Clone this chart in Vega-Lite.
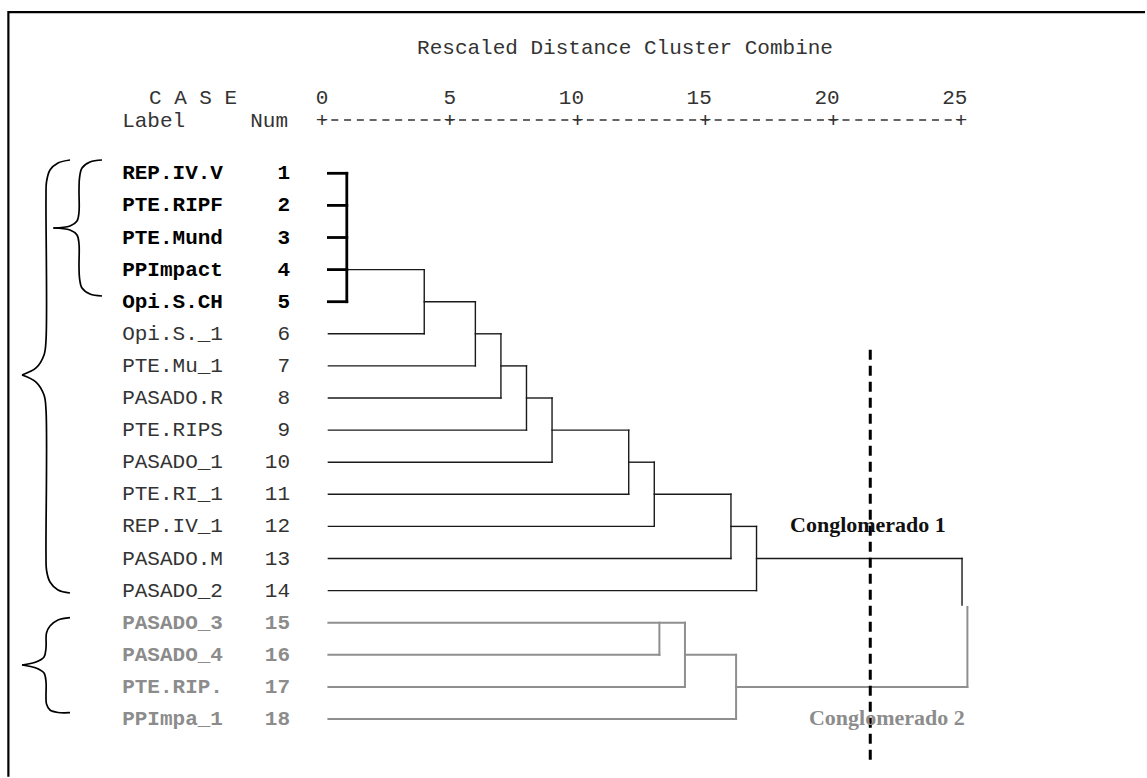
{
  "$schema": "https://vega.github.io/schema/vega-lite/v6.json",
  "width": 1147,
  "height": 778,
  "padding": 0,
  "autosize": {"type": "fit", "contains": "padding"},
  "background": "#ffffff",
  "config": {"view": {"stroke": null}},
  "data": {"values": [{"one": 1}]},
  "datasets": {
    "cases": [
      {"num": 1, "label": "REP.IV.V", "grp": "A"},
      {"num": 2, "label": "PTE.RIPF", "grp": "A"},
      {"num": 3, "label": "PTE.Mund", "grp": "A"},
      {"num": 4, "label": "PPImpact", "grp": "A"},
      {"num": 5, "label": "Opi.S.CH", "grp": "A"},
      {"num": 6, "label": "Opi.S._1", "grp": "B"},
      {"num": 7, "label": "PTE.Mu_1", "grp": "B"},
      {"num": 8, "label": "PASADO.R", "grp": "B"},
      {"num": 9, "label": "PTE.RIPS", "grp": "B"},
      {"num": 10, "label": "PASADO_1", "grp": "B"},
      {"num": 11, "label": "PTE.RI_1", "grp": "B"},
      {"num": 12, "label": "REP.IV_1", "grp": "B"},
      {"num": 13, "label": "PASADO.M", "grp": "B"},
      {"num": 14, "label": "PASADO_2", "grp": "B"},
      {"num": 15, "label": "PASADO_3", "grp": "C"},
      {"num": 16, "label": "PASADO_4", "grp": "C"},
      {"num": 17, "label": "PTE.RIP.", "grp": "C"},
      {"num": 18, "label": "PPImpa_1", "grp": "C"}
    ],
    "segments": [
      {"x1": 0.25, "x2": 0.97, "y1": 1, "y2": 1, "grp": "A"},
      {"x1": 0.25, "x2": 0.97, "y1": 2, "y2": 2, "grp": "A"},
      {"x1": 0.25, "x2": 0.97, "y1": 3, "y2": 3, "grp": "A"},
      {"x1": 0.25, "x2": 0.97, "y1": 4, "y2": 4, "grp": "A"},
      {"x1": 0.25, "x2": 0.97, "y1": 5, "y2": 5, "grp": "A"},
      {"x1": 0.97, "x2": 0.97, "y1": 1, "y2": 5, "grp": "A"},
      {"x1": 0.97, "x2": 4, "y1": 4, "y2": 4, "grp": "B"},
      {"x1": 0.25, "x2": 4, "y1": 6, "y2": 6, "grp": "B"},
      {"x1": 4, "x2": 4, "y1": 4, "y2": 6, "grp": "B"},
      {"x1": 4, "x2": 6, "y1": 5, "y2": 5, "grp": "B"},
      {"x1": 0.25, "x2": 6, "y1": 7, "y2": 7, "grp": "B"},
      {"x1": 6, "x2": 6, "y1": 5, "y2": 7, "grp": "B"},
      {"x1": 6, "x2": 7, "y1": 6, "y2": 6, "grp": "B"},
      {"x1": 0.25, "x2": 7, "y1": 8, "y2": 8, "grp": "B"},
      {"x1": 7, "x2": 7, "y1": 6, "y2": 8, "grp": "B"},
      {"x1": 7, "x2": 8, "y1": 7, "y2": 7, "grp": "B"},
      {"x1": 0.25, "x2": 8, "y1": 9, "y2": 9, "grp": "B"},
      {"x1": 8, "x2": 8, "y1": 7, "y2": 9, "grp": "B"},
      {"x1": 8, "x2": 9, "y1": 8, "y2": 8, "grp": "B"},
      {"x1": 0.25, "x2": 9, "y1": 10, "y2": 10, "grp": "B"},
      {"x1": 9, "x2": 9, "y1": 8, "y2": 10, "grp": "B"},
      {"x1": 9, "x2": 12, "y1": 9, "y2": 9, "grp": "B"},
      {"x1": 0.25, "x2": 12, "y1": 11, "y2": 11, "grp": "B"},
      {"x1": 12, "x2": 12, "y1": 9, "y2": 11, "grp": "B"},
      {"x1": 12, "x2": 13, "y1": 10, "y2": 10, "grp": "B"},
      {"x1": 0.25, "x2": 13, "y1": 12, "y2": 12, "grp": "B"},
      {"x1": 13, "x2": 13, "y1": 10, "y2": 12, "grp": "B"},
      {"x1": 13, "x2": 16, "y1": 11, "y2": 11, "grp": "B"},
      {"x1": 0.25, "x2": 16, "y1": 13, "y2": 13, "grp": "B"},
      {"x1": 16, "x2": 16, "y1": 11, "y2": 13, "grp": "B"},
      {"x1": 16, "x2": 17, "y1": 12, "y2": 12, "grp": "B"},
      {"x1": 0.25, "x2": 17, "y1": 14, "y2": 14, "grp": "B"},
      {"x1": 17, "x2": 17, "y1": 12, "y2": 14, "grp": "B"},
      {"x1": 17, "x2": 25.04, "y1": 13, "y2": 13, "grp": "B"},
      {"x1": 25.04, "x2": 25.04, "y1": 13, "y2": 14.45, "grp": "B"},
      {"x1": 0.25, "x2": 14.2, "y1": 15, "y2": 15, "grp": "C"},
      {"x1": 0.25, "x2": 13.2, "y1": 16, "y2": 16, "grp": "C"},
      {"x1": 13.2, "x2": 13.2, "y1": 15, "y2": 16, "grp": "C"},
      {"x1": 0.25, "x2": 14.2, "y1": 17, "y2": 17, "grp": "C"},
      {"x1": 14.2, "x2": 14.2, "y1": 15, "y2": 17, "grp": "C"},
      {"x1": 14.2, "x2": 16.2, "y1": 16, "y2": 16, "grp": "C"},
      {"x1": 0.25, "x2": 16.2, "y1": 18, "y2": 18, "grp": "C"},
      {"x1": 16.2, "x2": 16.2, "y1": 16, "y2": 18, "grp": "C"},
      {"x1": 16.2, "x2": 25.25, "y1": 17, "y2": 17, "grp": "C"},
      {"x1": 25.25, "x2": 25.25, "y1": 14.51, "y2": 17, "grp": "C"}
    ],
    "ticks": [{"tick": 0}, {"tick": 5}, {"tick": 10}, {"tick": 15}, {"tick": 20}, {"tick": 25}],
    "braces": [
      {"b": "1u", "i": 0, "x": -8.607, "y": 0.586},
      {"b": "1u", "i": 1, "x": -9.077, "y": 0.648},
      {"b": "1u", "i": 2, "x": -9.39, "y": 0.835},
      {"b": "1u", "i": 3, "x": -9.487, "y": 1.146},
      {"b": "1u", "i": 4, "x": -9.507, "y": 1.52},
      {"b": "1u", "i": 5, "x": -9.507, "y": 2.206},
      {"b": "1u", "i": 6, "x": -9.585, "y": 2.486},
      {"b": "1u", "i": 7, "x": -9.859, "y": 2.642},
      {"b": "1u", "i": 8, "x": -10.51, "y": 2.704},
      {"b": "1l", "i": 0, "x": -10.51, "y": 2.704},
      {"b": "1l", "i": 1, "x": -9.859, "y": 2.766},
      {"b": "1l", "i": 2, "x": -9.585, "y": 2.922},
      {"b": "1l", "i": 3, "x": -9.507, "y": 3.202},
      {"b": "1l", "i": 4, "x": -9.507, "y": 3.888},
      {"b": "1l", "i": 5, "x": -9.487, "y": 4.262},
      {"b": "1l", "i": 6, "x": -9.39, "y": 4.573},
      {"b": "1l", "i": 7, "x": -9.077, "y": 4.76},
      {"b": "1l", "i": 8, "x": -8.607, "y": 4.822},
      {"b": "2u", "i": 0, "x": -9.859, "y": 0.586},
      {"b": "2u", "i": 1, "x": -10.329, "y": 0.679},
      {"b": "2u", "i": 2, "x": -10.642, "y": 0.897},
      {"b": "2u", "i": 3, "x": -10.779, "y": 1.271},
      {"b": "2u", "i": 4, "x": -10.798, "y": 1.738},
      {"b": "2u", "i": 5, "x": -10.798, "y": 6.193},
      {"b": "2u", "i": 6, "x": -10.876, "y": 6.66},
      {"b": "2u", "i": 7, "x": -11.189, "y": 7.065},
      {"b": "2u", "i": 8, "x": -11.737, "y": 7.283},
      {"b": "2l", "i": 0, "x": -11.737, "y": 7.283},
      {"b": "2l", "i": 1, "x": -11.189, "y": 7.502},
      {"b": "2l", "i": 2, "x": -10.876, "y": 7.907},
      {"b": "2l", "i": 3, "x": -10.798, "y": 8.374},
      {"b": "2l", "i": 4, "x": -10.798, "y": 12.891},
      {"b": "2l", "i": 5, "x": -10.779, "y": 13.358},
      {"b": "2l", "i": 6, "x": -10.642, "y": 13.732},
      {"b": "2l", "i": 7, "x": -10.329, "y": 13.981},
      {"b": "2l", "i": 8, "x": -9.859, "y": 14.075},
      {"b": "3u", "i": 0, "x": -9.859, "y": 14.844},
      {"b": "3u", "i": 1, "x": -10.329, "y": 14.916},
      {"b": "3u", "i": 2, "x": -10.642, "y": 15.103},
      {"b": "3u", "i": 3, "x": -10.779, "y": 15.321},
      {"b": "3u", "i": 4, "x": -10.798, "y": 15.788},
      {"b": "3u", "i": 5, "x": -10.876, "y": 16.069},
      {"b": "3u", "i": 6, "x": -11.189, "y": 16.224},
      {"b": "3u", "i": 7, "x": -11.737, "y": 16.318},
      {"b": "3l", "i": 0, "x": -11.737, "y": 16.318},
      {"b": "3l", "i": 1, "x": -11.189, "y": 16.411},
      {"b": "3l", "i": 2, "x": -10.876, "y": 16.567},
      {"b": "3l", "i": 3, "x": -10.798, "y": 16.847},
      {"b": "3l", "i": 4, "x": -10.798, "y": 17.315},
      {"b": "3l", "i": 5, "x": -10.779, "y": 17.533},
      {"b": "3l", "i": 6, "x": -10.642, "y": 17.72},
      {"b": "3l", "i": 7, "x": -10.329, "y": 17.798},
      {"b": "3l", "i": 8, "x": -9.859, "y": 17.804}
    ]
  },
  "layer": [
    {
      "mark": {"type": "rule", "color": "#000000", "strokeWidth": 2.3},
      "encoding": {
        "x": {"datum": -12.27, "type": "quantitative", "scale": {"domain": [-12.598, 32.277], "nice": false, "zero": false}, "axis": null},
        "x2": {"datum": 32.2},
        "y": {"datum": -4.02, "type": "quantitative", "scale": {"domain": [-4.399, 19.838], "nice": false, "zero": false, "reverse": true}, "axis": null}
      }
    },
    {
      "mark": {"type": "rule", "color": "#000000", "strokeWidth": 2.2},
      "encoding": {
        "x": {"datum": -12.27, "type": "quantitative", "scale": {"domain": [-12.598, 32.277], "nice": false, "zero": false}, "axis": null},
        "y": {"datum": -4.055, "type": "quantitative", "scale": {"domain": [-4.399, 19.838], "nice": false, "zero": false, "reverse": true}, "axis": null},
        "y2": {"datum": 19.8}
      }
    },
    {
      "data": {"name": "segments"},
      "transform": [{"filter": "datum.grp === 'B'"}],
      "mark": {"type": "rule", "color": "#1a1a1a", "strokeWidth": 1.4, "strokeCap": "square"},
      "encoding": {
        "x": {"field": "x1", "type": "quantitative", "scale": {"domain": [-12.598, 32.277], "nice": false, "zero": false}, "axis": null},
        "x2": {"field": "x2"},
        "y": {"field": "y1", "type": "quantitative", "scale": {"domain": [-4.399, 19.838], "nice": false, "zero": false, "reverse": true}, "axis": null},
        "y2": {"field": "y2"}
      }
    },
    {
      "data": {"name": "segments"},
      "transform": [{"filter": "datum.grp === 'C'"}],
      "mark": {"type": "rule", "color": "#8f8f8f", "strokeWidth": 2, "strokeCap": "square"},
      "encoding": {
        "x": {"field": "x1", "type": "quantitative", "scale": {"domain": [-12.598, 32.277], "nice": false, "zero": false}, "axis": null},
        "x2": {"field": "x2"},
        "y": {"field": "y1", "type": "quantitative", "scale": {"domain": [-4.399, 19.838], "nice": false, "zero": false, "reverse": true}, "axis": null},
        "y2": {"field": "y2"}
      }
    },
    {
      "data": {"name": "segments"},
      "transform": [{"filter": "datum.grp === 'A'"}],
      "mark": {"type": "rule", "color": "#000000", "strokeWidth": 2.8, "strokeCap": "square"},
      "encoding": {
        "x": {"field": "x1", "type": "quantitative", "scale": {"domain": [-12.598, 32.277], "nice": false, "zero": false}, "axis": null},
        "x2": {"field": "x2"},
        "y": {"field": "y1", "type": "quantitative", "scale": {"domain": [-4.399, 19.838], "nice": false, "zero": false, "reverse": true}, "axis": null},
        "y2": {"field": "y2"}
      }
    },
    {
      "mark": {"type": "rule", "color": "#000000", "strokeWidth": 3, "strokeDash": [10, 6]},
      "encoding": {
        "x": {"datum": 21.45, "type": "quantitative", "scale": {"domain": [-12.598, 32.277], "nice": false, "zero": false}, "axis": null},
        "y": {"datum": 6.5, "type": "quantitative", "scale": {"domain": [-4.399, 19.838], "nice": false, "zero": false, "reverse": true}, "axis": null},
        "y2": {"datum": 19.28}
      }
    },
    {
      "data": {"name": "braces"},
      "mark": {"type": "line", "color": "#000000", "strokeWidth": 1.7, "interpolate": "catmull-rom"},
      "encoding": {
        "x": {"field": "x", "type": "quantitative", "scale": {"domain": [-12.598, 32.277], "nice": false, "zero": false}, "axis": null},
        "y": {"field": "y", "type": "quantitative", "scale": {"domain": [-4.399, 19.838], "nice": false, "zero": false, "reverse": true}, "axis": null},
        "detail": {"field": "b", "type": "nominal"},
        "order": {"field": "i", "type": "quantitative"}
      }
    },
    {
      "mark": {"type": "text", "text": "Rescaled Distance Cluster Combine", "font": "Liberation Mono", "fontSize": 21, "color": "#333333", "align": "left", "baseline": "middle"},
      "encoding": {
        "x": {"datum": 3.72, "type": "quantitative", "scale": {"domain": [-12.598, 32.277], "nice": false, "zero": false}, "axis": null},
        "y": {"datum": -2.903, "type": "quantitative", "scale": {"domain": [-4.399, 19.838], "nice": false, "zero": false, "reverse": true}, "axis": null}
      }
    },
    {
      "mark": {"type": "text", "text": "C A S E", "font": "Liberation Mono", "fontSize": 21, "color": "#333333", "align": "left", "baseline": "middle"},
      "encoding": {
        "x": {"datum": -6.77, "type": "quantitative", "scale": {"domain": [-12.598, 32.277], "nice": false, "zero": false}, "axis": null},
        "y": {"datum": -1.346, "type": "quantitative", "scale": {"domain": [-4.399, 19.838], "nice": false, "zero": false, "reverse": true}, "axis": null}
      }
    },
    {
      "mark": {"type": "text", "text": "Label", "font": "Liberation Mono", "fontSize": 21, "color": "#333333", "align": "left", "baseline": "middle"},
      "encoding": {
        "x": {"datum": -7.82, "type": "quantitative", "scale": {"domain": [-12.598, 32.277], "nice": false, "zero": false}, "axis": null},
        "y": {"datum": -0.614, "type": "quantitative", "scale": {"domain": [-4.399, 19.838], "nice": false, "zero": false, "reverse": true}, "axis": null}
      }
    },
    {
      "mark": {"type": "text", "text": "Num", "font": "Liberation Mono", "fontSize": 21, "color": "#333333", "align": "right", "baseline": "middle"},
      "encoding": {
        "x": {"datum": -1.33, "type": "quantitative", "scale": {"domain": [-12.598, 32.277], "nice": false, "zero": false}, "axis": null},
        "y": {"datum": -0.614, "type": "quantitative", "scale": {"domain": [-4.399, 19.838], "nice": false, "zero": false, "reverse": true}, "axis": null}
      }
    },
    {
      "mark": {"type": "rule", "color": "#333333", "strokeWidth": 1.3, "strokeDash": [7, 5.78], "strokeDashOffset": 3.5},
      "encoding": {
        "x": {"datum": 0, "type": "quantitative", "scale": {"domain": [-12.598, 32.277], "nice": false, "zero": false}, "axis": null},
        "x2": {"datum": 25},
        "y": {"datum": -0.66, "type": "quantitative", "scale": {"domain": [-4.399, 19.838], "nice": false, "zero": false, "reverse": true}, "axis": null}
      }
    },
    {
      "data": {"name": "ticks"},
      "mark": {"type": "text", "text": "+", "font": "Liberation Mono", "fontSize": 21, "color": "#333333", "align": "center", "baseline": "middle"},
      "encoding": {
        "x": {"field": "tick", "type": "quantitative", "scale": {"domain": [-12.598, 32.277], "nice": false, "zero": false}, "axis": null},
        "y": {"datum": -0.614, "type": "quantitative", "scale": {"domain": [-4.399, 19.838], "nice": false, "zero": false, "reverse": true}, "axis": null}
      }
    },
    {
      "data": {"name": "ticks"},
      "mark": {"type": "text", "font": "Liberation Mono", "fontSize": 21, "color": "#333333", "align": "right", "baseline": "middle", "dx": 6.4},
      "encoding": {
        "x": {"field": "tick", "type": "quantitative", "scale": {"domain": [-12.598, 32.277], "nice": false, "zero": false}, "axis": null},
        "y": {"datum": -1.346, "type": "quantitative", "scale": {"domain": [-4.399, 19.838], "nice": false, "zero": false, "reverse": true}, "axis": null},
        "text": {"field": "tick", "type": "nominal"}
      }
    },
    {
      "data": {"name": "cases"},
      "transform": [{"filter": "datum.grp === 'A'"}],
      "mark": {"type": "text", "font": "Liberation Mono", "fontSize": 21, "fontWeight": "bold", "color": "#000000", "align": "left", "baseline": "middle"},
      "encoding": {
        "x": {"datum": -7.82, "type": "quantitative", "scale": {"domain": [-12.598, 32.277], "nice": false, "zero": false}, "axis": null},
        "y": {"field": "num", "type": "quantitative", "scale": {"domain": [-4.399, 19.838], "nice": false, "zero": false, "reverse": true}, "axis": null},
        "text": {"field": "label", "type": "nominal"}
      }
    },
    {
      "data": {"name": "cases"},
      "transform": [{"filter": "datum.grp === 'A'"}],
      "mark": {"type": "text", "font": "Liberation Mono", "fontSize": 21, "fontWeight": "bold", "color": "#000000", "align": "right", "baseline": "middle"},
      "encoding": {
        "x": {"datum": -1.25, "type": "quantitative", "scale": {"domain": [-12.598, 32.277], "nice": false, "zero": false}, "axis": null},
        "y": {"field": "num", "type": "quantitative", "scale": {"domain": [-4.399, 19.838], "nice": false, "zero": false, "reverse": true}, "axis": null},
        "text": {"field": "num", "type": "nominal"}
      }
    },
    {
      "data": {"name": "cases"},
      "transform": [{"filter": "datum.grp === 'B'"}],
      "mark": {"type": "text", "font": "Liberation Mono", "fontSize": 21, "color": "#333333", "align": "left", "baseline": "middle"},
      "encoding": {
        "x": {"datum": -7.82, "type": "quantitative", "scale": {"domain": [-12.598, 32.277], "nice": false, "zero": false}, "axis": null},
        "y": {"field": "num", "type": "quantitative", "scale": {"domain": [-4.399, 19.838], "nice": false, "zero": false, "reverse": true}, "axis": null},
        "text": {"field": "label", "type": "nominal"}
      }
    },
    {
      "data": {"name": "cases"},
      "transform": [{"filter": "datum.grp === 'B'"}],
      "mark": {"type": "text", "font": "Liberation Mono", "fontSize": 21, "color": "#333333", "align": "right", "baseline": "middle"},
      "encoding": {
        "x": {"datum": -1.25, "type": "quantitative", "scale": {"domain": [-12.598, 32.277], "nice": false, "zero": false}, "axis": null},
        "y": {"field": "num", "type": "quantitative", "scale": {"domain": [-4.399, 19.838], "nice": false, "zero": false, "reverse": true}, "axis": null},
        "text": {"field": "num", "type": "nominal"}
      }
    },
    {
      "data": {"name": "cases"},
      "transform": [{"filter": "datum.grp === 'C'"}],
      "mark": {"type": "text", "font": "Liberation Mono", "fontSize": 21, "fontWeight": "bold", "color": "#8c8c8c", "align": "left", "baseline": "middle"},
      "encoding": {
        "x": {"datum": -7.82, "type": "quantitative", "scale": {"domain": [-12.598, 32.277], "nice": false, "zero": false}, "axis": null},
        "y": {"field": "num", "type": "quantitative", "scale": {"domain": [-4.399, 19.838], "nice": false, "zero": false, "reverse": true}, "axis": null},
        "text": {"field": "label", "type": "nominal"}
      }
    },
    {
      "data": {"name": "cases"},
      "transform": [{"filter": "datum.grp === 'C'"}],
      "mark": {"type": "text", "font": "Liberation Mono", "fontSize": 21, "fontWeight": "bold", "color": "#8c8c8c", "align": "right", "baseline": "middle"},
      "encoding": {
        "x": {"datum": -1.25, "type": "quantitative", "scale": {"domain": [-12.598, 32.277], "nice": false, "zero": false}, "axis": null},
        "y": {"field": "num", "type": "quantitative", "scale": {"domain": [-4.399, 19.838], "nice": false, "zero": false, "reverse": true}, "axis": null},
        "text": {"field": "num", "type": "nominal"}
      }
    },
    {
      "mark": {"type": "text", "text": "Conglomerado 1", "font": "Liberation Serif", "fontSize": 22, "fontWeight": "bold", "color": "#111111", "align": "left", "baseline": "alphabetic"},
      "encoding": {
        "x": {"datum": 18.31, "type": "quantitative", "scale": {"domain": [-12.598, 32.277], "nice": false, "zero": false}, "axis": null},
        "y": {"datum": 12.174, "type": "quantitative", "scale": {"domain": [-4.399, 19.838], "nice": false, "zero": false, "reverse": true}, "axis": null}
      }
    },
    {
      "mark": {"type": "text", "text": "Conglomerado 2", "font": "Liberation Serif", "fontSize": 22, "fontWeight": "bold", "color": "#8c8c8c", "align": "left", "baseline": "alphabetic"},
      "encoding": {
        "x": {"datum": 19.05, "type": "quantitative", "scale": {"domain": [-12.598, 32.277], "nice": false, "zero": false}, "axis": null},
        "y": {"datum": 18.187, "type": "quantitative", "scale": {"domain": [-4.399, 19.838], "nice": false, "zero": false, "reverse": true}, "axis": null}
      }
    }
  ]
}
